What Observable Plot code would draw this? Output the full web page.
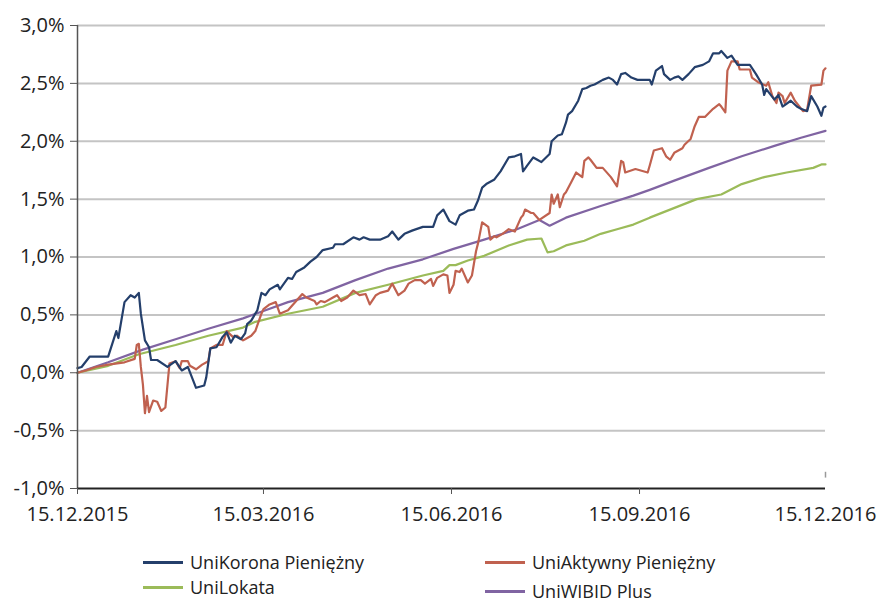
<!DOCTYPE html>
<html><head><meta charset="utf-8">
<script src="https://cdn.jsdelivr.net/npm/d3@7"></script>
<script src="https://cdn.jsdelivr.net/npm/@observablehq/plot@0.6"></script>
<style>
body{margin:0;background:#fff;font-family:"Open Sans",sans-serif;}
#wrap{position:relative;width:878px;height:603px;overflow:hidden;}
.leg{position:absolute;height:20px;display:flex;align-items:center;font-size:18px;color:#222;white-space:nowrap;line-height:20px;}
.leg .sw{display:inline-block;width:40px;height:3px;margin-right:7px;}
</style></head>
<body><div id="wrap"><div id="chart"></div><div id="legend"></div></div>
<script>
const startDate = "2015-12-15";
const tickDates = ["2015-12-15", "2016-03-15", "2016-06-15", "2016-09-15", "2016-12-15"];
const yTicks = [-1, -0.5, 0, 0.5, 1, 1.5, 2, 2.5, 3];
const seriesNames = ["UniKorona Pieniężny", "UniAktywny Pieniężny", "UniLokata", "UniWIBID Plus"];
const seriesColors = ["#243f6b", "#c0614f", "#9bbb59", "#8064a2"];

// days since 15.12.2015, values in %
const koronaDays = [0,2,6,15,19,20,23,26,28,30,31,33,35,36,39,44,48,51,54,58,62,63,65,68,71,73,75,77,80,82,83,85,88,90,92,94,98,99,103,105,107,111,114,117,120,125,126,130,135,138,140,143,148,152,154,157,160,164,169,174,176,179,182,185,187,191,194,196,198,200,204,207,211,214,217,218,220,223,225,227,231,232,235,237,239,240,242,245,247,249,251,253,257,260,262,264,266,268,271,274,280,281,283,286,287,290,292,294,296,299,302,306,309,311,314,315,318,320,323,329,332,335,336,337,341,343,345,349,352,354,357,359,362,364,365,366];
const koronaVals = [0.04,0.05,0.14,0.14,0.36,0.30,0.61,0.67,0.65,0.69,0.51,0.28,0.22,0.11,0.11,0.05,0.10,0.02,0.05,-0.13,-0.11,-0.04,0.21,0.22,0.31,0.35,0.26,0.32,0.29,0.34,0.42,0.45,0.54,0.69,0.67,0.72,0.76,0.72,0.82,0.81,0.87,0.91,0.96,1.00,1.06,1.08,1.11,1.11,1.17,1.15,1.17,1.15,1.15,1.18,1.22,1.15,1.20,1.23,1.26,1.26,1.36,1.41,1.31,1.28,1.36,1.40,1.41,1.49,1.60,1.63,1.67,1.74,1.86,1.87,1.89,1.74,1.79,1.86,1.84,1.82,1.89,2.00,2.05,2.06,2.16,2.23,2.26,2.35,2.45,2.46,2.48,2.49,2.53,2.55,2.53,2.49,2.58,2.59,2.55,2.53,2.53,2.49,2.61,2.65,2.58,2.53,2.55,2.56,2.53,2.58,2.64,2.66,2.69,2.76,2.76,2.78,2.72,2.74,2.66,2.66,2.58,2.49,2.40,2.45,2.36,2.40,2.30,2.35,2.30,2.28,2.26,2.39,2.30,2.22,2.29,2.30];

const aktywnyDays = [0,4,9,15,23,28,29,30,31,32,33,34,35,37,39,41,43,44,45,48,50,51,54,55,58,61,64,65,68,71,73,76,78,81,82,85,87,90,91,94,97,99,103,107,110,112,116,117,119,121,125,127,129,132,135,138,141,143,146,148,152,154,157,160,162,165,168,170,173,174,176,179,181,182,184,185,187,188,191,193,195,196,198,201,202,204,205,208,211,214,217,218,219,222,223,226,231,232,233,235,236,238,239,242,244,247,248,250,251,254,257,261,264,266,267,268,273,279,280,282,286,288,290,292,296,297,300,302,304,307,311,314,315,317,318,320,323,324,329,330,333,337,338,340,342,343,345,346,349,351,355,357,359,364,365,366];
const aktywnyVals = [0.00,0.02,0.05,0.07,0.09,0.12,0.24,0.25,0.05,-0.10,-0.35,-0.20,-0.34,-0.24,-0.25,-0.33,-0.30,-0.11,0.08,0.10,0.04,0.10,0.10,0.06,0.03,0.07,0.10,0.21,0.24,0.24,0.36,0.31,0.32,0.28,0.29,0.32,0.36,0.51,0.55,0.59,0.61,0.51,0.54,0.62,0.68,0.65,0.62,0.59,0.62,0.61,0.65,0.67,0.62,0.65,0.71,0.67,0.68,0.59,0.67,0.69,0.71,0.77,0.67,0.71,0.77,0.80,0.80,0.77,0.81,0.75,0.82,0.85,0.84,0.69,0.76,0.88,0.87,0.90,0.78,0.84,1.05,1.12,1.30,1.26,1.15,1.18,1.17,1.20,1.24,1.22,1.34,1.36,1.41,1.38,1.38,1.32,1.38,1.54,1.46,1.54,1.43,1.54,1.56,1.66,1.73,1.69,1.83,1.86,1.84,1.77,1.77,1.69,1.61,1.83,1.82,1.73,1.76,1.73,1.79,1.92,1.94,1.87,1.84,1.90,1.94,1.97,2.02,2.13,2.21,2.21,2.28,2.32,2.30,2.25,2.61,2.69,2.69,2.62,2.62,2.55,2.51,2.48,2.51,2.39,2.33,2.42,2.39,2.33,2.42,2.35,2.26,2.27,2.48,2.49,2.61,2.63];

const lokataDays = [0,15,30,48,64,81,87,103,120,136,152,169,179,182,185,191,199,211,220,227,230,233,239,248,256,264,272,280,303,315,325,336,347,360,364,366];
const lokataVals = [0,0.06,0.16,0.24,0.32,0.39,0.44,0.51,0.57,0.69,0.76,0.84,0.88,0.93,0.93,0.97,1.01,1.10,1.15,1.16,1.04,1.05,1.10,1.14,1.20,1.24,1.28,1.34,1.50,1.54,1.63,1.69,1.73,1.77,1.80,1.80];

const wibidDays = [0,15,32,48,64,81,92,103,120,136,152,169,184,199,215,226,231,239,256,272,280,292,309,325,341,354,366];
const wibidVals = [0,0.09,0.20,0.29,0.38,0.47,0.54,0.61,0.69,0.80,0.90,0.98,1.07,1.15,1.24,1.32,1.27,1.34,1.44,1.53,1.58,1.66,1.77,1.87,1.96,2.03,2.09];

const start = new Date(startDate + "T00:00:00Z");
const build = (days, vals, name) => days.map((d, i) => ({date: d3.utcDay.offset(start, d), value: vals[i], series: name}));
const series = [
  build(koronaDays, koronaVals, seriesNames[0]),
  build(aktywnyDays, aktywnyVals, seriesNames[1]),
  build(lokataDays, lokataVals, seriesNames[2]),
  build(wibidDays, wibidVals, seriesNames[3])
];
const ticks = tickDates.map(s => new Date(s + "T00:00:00Z"));
const fmtY = d => d.toFixed(1).replace(".", ",") + "%";
const fmtX = d3.utcFormat("%d.%m.%Y");

const chart = Plot.plot({
  width: 878,
  height: 540,
  marginTop: 25,
  marginLeft: 77,
  marginRight: 53,
  marginBottom: 52,
  style: {fontFamily: "'Open Sans', sans-serif", fontSize: "20px", color: "#222", background: "#fff"},
  x: {type: "utc", domain: [ticks[0], ticks[4]]},
  y: {domain: [-1, 3]},
  marks: [
    Plot.ruleY(yTicks.filter(v => v > -1), {stroke: "#c4c4c4", strokeWidth: 2}),
    Plot.ruleX([ticks[4]], {y1: -0.91, y2: -0.86, stroke: "#999", strokeWidth: 1.5}),
    Plot.line(series[3], {x: "date", y: "value", stroke: seriesColors[3], strokeWidth: 2.2}),
    Plot.line(series[2], {x: "date", y: "value", stroke: seriesColors[2], strokeWidth: 2.2}),
    Plot.line(series[1], {x: "date", y: "value", stroke: seriesColors[1], strokeWidth: 2.2}),
    Plot.line(series[0], {x: "date", y: "value", stroke: seriesColors[0], strokeWidth: 2.2}),
    Plot.ruleX([ticks[0]], {y1: -1, y2: 3, stroke: "#555", strokeWidth: 1.5}),
    Plot.ruleY([-1], {stroke: "#222", strokeWidth: 2}),
    Plot.axisY({ticks: yTicks, tickFormat: fmtY, tickSize: 7, tickPadding: 6, fontSize: 20, stroke: "#555", label: null}),
    Plot.axisX({ticks: ticks.slice(0, 4), text: null, tickSize: 6, stroke: "#555", label: null}),
    Plot.axisX({ticks: ticks, tickFormat: fmtX, tickSize: 0, tickPadding: 18, fontSize: 20, label: null})
  ]
});
document.getElementById("chart").appendChild(chart);

const legendPos = [
  {left: 143, top: 552},
  {left: 485, top: 552},
  {left: 143, top: 577},
  {left: 485, top: 581}
];
const leg = document.getElementById("legend");
seriesNames.forEach((n, i) => {
  const el = document.createElement("div");
  el.className = "leg";
  el.style.left = legendPos[i].left + "px";
  el.style.top = legendPos[i].top + "px";
  el.innerHTML = `<span class="sw" style="background:${seriesColors[i]}"></span><span>${n}</span>`;
  leg.appendChild(el);
});
</script>
</body></html>
